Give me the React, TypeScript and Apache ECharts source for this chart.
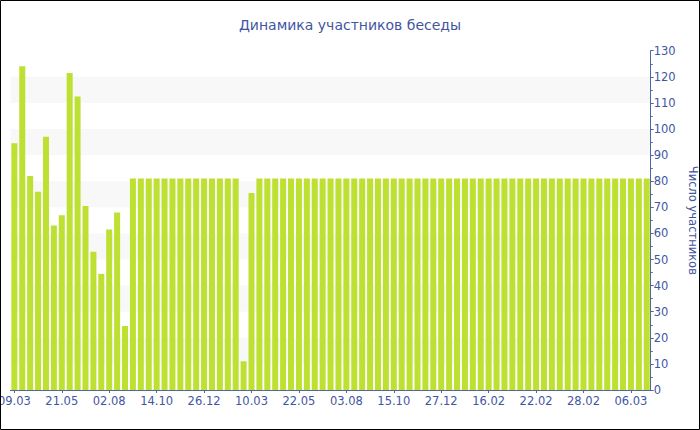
import React, { useEffect, useRef } from "react";
import * as echarts from "echarts";

const titleText = "Динамика участников беседы";
const yAxisName = "Число участников";

const categories = [
  "09.03", "21.03", "02.04", "14.04", "26.04", "09.05",
  "21.05", "02.06", "14.06", "26.06", "08.07", "20.07",
  "02.08", "14.08", "26.08", "07.09", "19.09", "01.10",
  "14.10", "26.10", "07.11", "19.11", "01.12", "13.12",
  "26.12", "07.01", "19.01", "31.01", "12.02", "24.02",
  "10.03", "22.03", "03.04", "15.04", "27.04", "09.05",
  "22.05", "03.06", "15.06", "27.06", "09.07", "21.07",
  "03.08", "15.08", "27.08", "08.09", "20.09", "02.10",
  "15.10", "27.10", "08.11", "20.11", "02.12", "14.12",
  "27.12", "04.01", "12.01", "20.01", "28.01", "07.02",
  "16.02", "17.02", "18.02", "19.02", "20.02", "21.02",
  "22.02", "23.02", "24.02", "25.02", "26.02", "27.02",
  "28.02", "01.03", "02.03", "03.03", "04.03", "05.03",
  "06.03", "07.03", "08.03",
];

const participants = [
  94.5, 124, 82, 76, 97, 63, 67, 121.5, 112.5, 70.5, 53, 44.5, 61.5, 68, 24.5,
  81, 81, 81, 81, 81, 81, 81, 81, 81, 81, 81, 81, 81, 81,
  11, 75.5,
  81, 81, 81, 81, 81, 81, 81, 81, 81, 81,
  81, 81, 81, 81, 81, 81, 81, 81, 81, 81,
  81, 81, 81, 81, 81, 81, 81, 81, 81, 81,
  81, 81, 81, 81, 81, 81, 81, 81, 81, 81,
  81, 81, 81, 81, 81, 81, 81, 81, 81, 81,
];

const TEXT = "#3f56a2";
const AXIS = "#5064a8";
const BAR = "#bde032";
const FONT = "DejaVu Sans";

export default function App() {
  const ref = useRef<HTMLDivElement>(null);
  useEffect(() => {
    if (!ref.current) return;
    const chart = echarts.init(ref.current, null, { renderer: "svg" });
    chart.setOption({
      animation: false,
      backgroundColor: "#ffffff",
      textStyle: { fontFamily: FONT },
      title: {
        text: titleText,
        left: "center",
        top: 13,
        textStyle: { color: TEXT, fontSize: 14, fontWeight: "normal", fontFamily: FONT },
      },
      grid: {
        left: 10.4,
        right: 49.3,
        top: 50.7,
        bottom: 40,
        containLabel: false,
        outerBoundsMode: "none",
      },
      xAxis: {
        type: "category",
        data: categories,
        boundaryGap: true,
        axisLine: { show: true, lineStyle: { color: AXIS, width: 1 } },
        axisTick: { show: true, alignWithLabel: true, interval: 5, length: 3, lineStyle: { color: AXIS } },
        axisLabel: { interval: 5, color: TEXT, fontSize: 11.5, fontFamily: FONT, margin: 5, hideOverlap: false },
        splitLine: { show: false },
      },
      yAxis: {
        type: "value",
        position: "right",
        min: 0,
        max: 130,
        interval: 10,
        name: yAxisName,
        nameLocation: "middle",
        nameRotate: -90,
        nameGap: 32,
        nameTextStyle: { color: TEXT, fontSize: 11.5, fontFamily: FONT },
        axisLine: { show: true, lineStyle: { color: AXIS, width: 1 } },
        axisTick: { show: true, length: 3, lineStyle: { color: AXIS } },
        minorTick: { show: true, splitNumber: 2, length: 2, lineStyle: { color: AXIS } },
        axisLabel: { color: TEXT, fontSize: 11.5, fontFamily: FONT, margin: 3 },
        splitLine: { show: false },
        splitArea: { show: true, areaStyle: { color: ["rgba(255,255,255,0)", "#f8f8f8"] } },
      },
      series: [
        {
          type: "bar",
          data: participants,
          barCategoryGap: "24%",
          itemStyle: { color: BAR },
        },
      ],
      graphic: [
        {
          type: "rect",
          shape: { x: 0.5, y: 0.5, width: 699, height: 429 },
          style: { fill: "none", stroke: "#000", lineWidth: 1 },
          z: 100,
        },
      ],
    });
    return () => chart.dispose();
  }, []);
  return (
    <div
      ref={ref}
      style={{ position: "fixed", left: 0, top: 0, width: 700, height: 430 }}
    />
  );
}
